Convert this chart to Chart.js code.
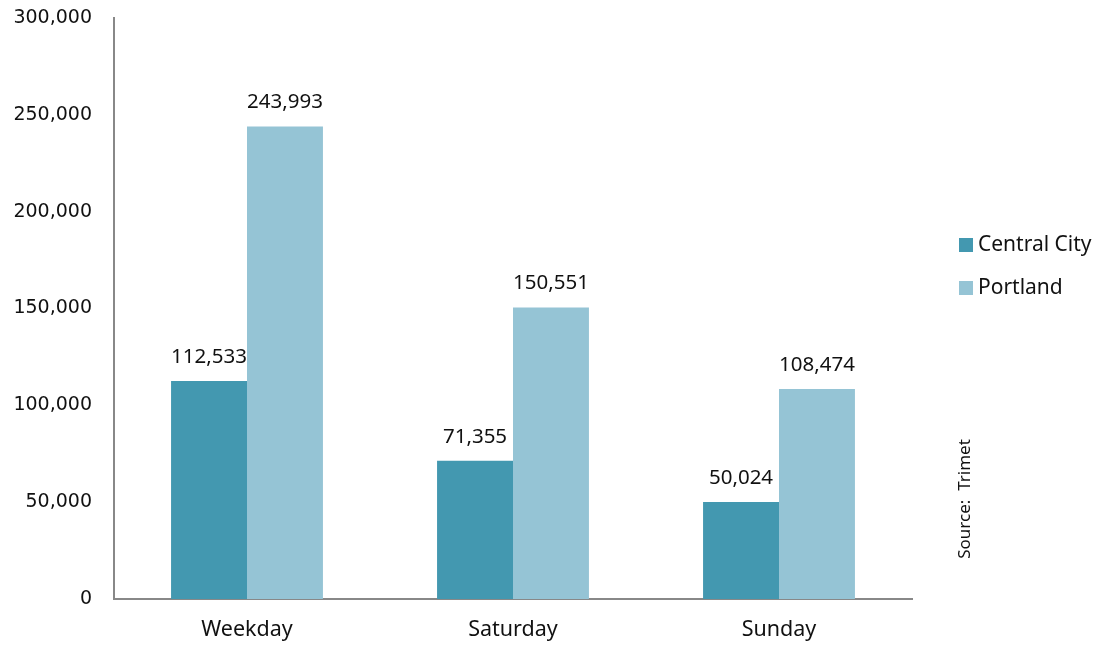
<!DOCTYPE html>
<html>
<head>
<meta charset="utf-8">
<script src="https://cdn.jsdelivr.net/npm/chart.js@4"></script>
<style>
  html, body { margin: 0; padding: 0; background: #ffffff; }
  #wrap { width: 1110px; height: 645px; position: relative; }
</style>
</head>
<body>
<div id="wrap"><canvas id="c" width="1110" height="645"></canvas></div>
<script>
// Daily ridership by day type
const categories = ['Weekday', 'Saturday', 'Sunday'];
const centralCity = [112533, 71355, 50024];
const portland = [243993, 150551, 108474];
const seriesNames = ['Central City', 'Portland'];
const seriesColors = ['#4398b0', '#95c4d5'];
const yTicks = [0, 50000, 100000, 150000, 200000, 250000, 300000];
const sourceNote = 'Source:  Trimet';

const fmt = v => v.toLocaleString('en-US');
const labelFont = '"Noto Sans", sans-serif';

// Value labels above each bar
const valueLabels = {
  id: 'valueLabels',
  afterDatasetsDraw(chart) {
    const ctx = chart.ctx;
    ctx.save();
    ctx.fillStyle = '#111';
    ctx.font = '20.5px ' + labelFont;
    ctx.textAlign = 'center';
    ctx.textBaseline = 'middle';
    chart.data.datasets.forEach((ds, i) => {
      chart.getDatasetMeta(i).data.forEach((bar, j) => {
        ctx.fillText(fmt(ds.data[j]), bar.x, bar.y - 24);
      });
    });
    ctx.restore();
  }
};

// Legend on the right and vertical source note
const sideNotes = {
  id: 'sideNotes',
  afterDraw(chart) {
    const ctx = chart.ctx;
    ctx.save();
    ctx.font = '21px ' + labelFont;
    ctx.textBaseline = 'middle';
    ctx.textAlign = 'left';
    chart.data.datasets.forEach((ds, i) => {
      const y = 245 + i * 43;
      ctx.fillStyle = ds.backgroundColor;
      ctx.fillRect(959, y - 7, 14, 14);
      ctx.fillStyle = '#111';
      ctx.fillText(ds.label, 978, y);
    });
    ctx.font = '17px ' + labelFont;
    ctx.translate(965, 499);
    ctx.rotate(-Math.PI / 2);
    ctx.textAlign = 'center';
    ctx.fillText(sourceNote, 0, 0);
    ctx.restore();
  }
};

new Chart(document.getElementById('c'), {
  type: 'bar',
  data: {
    labels: categories,
    datasets: [
      { label: seriesNames[0], data: centralCity, backgroundColor: seriesColors[0] },
      { label: seriesNames[1], data: portland, backgroundColor: seriesColors[1] }
    ]
  },
  options: {
    responsive: false,
    animation: false,
    devicePixelRatio: 1,
    layout: { padding: { left: 0, right: 198, top: 18, bottom: 0 } },
    categoryPercentage: 0.571,
    barPercentage: 1,
    plugins: { legend: { display: false }, tooltip: { enabled: false } },
    scales: {
      x: {
        grid: { display: false, drawTicks: false },
        border: { display: true, color: '#888', width: 2 },
        ticks: { color: '#111', font: { family: labelFont, size: 21.5 }, padding: 18 },
        afterFit(s) { s.height = 46; s.paddingLeft = 0; s.paddingRight = 0; }
      },
      y: {
        min: 0, max: 300000,
        grid: { display: false, drawTicks: false },
        border: { display: true, color: '#888', width: 2 },
        afterBuildTicks(s) { s.ticks = yTicks.map(v => ({ value: v })); },
        ticks: {
          color: '#111',
          font: { family: '"DejaVu Sans", sans-serif', size: 19 },
          padding: 22,
          callback: v => fmt(v)
        },
        afterFit(s) { s.width = 114; s.paddingTop = 0; s.paddingBottom = 0; }
      }
    }
  },
  plugins: [valueLabels, sideNotes]
});
</script>
</body>
</html>
